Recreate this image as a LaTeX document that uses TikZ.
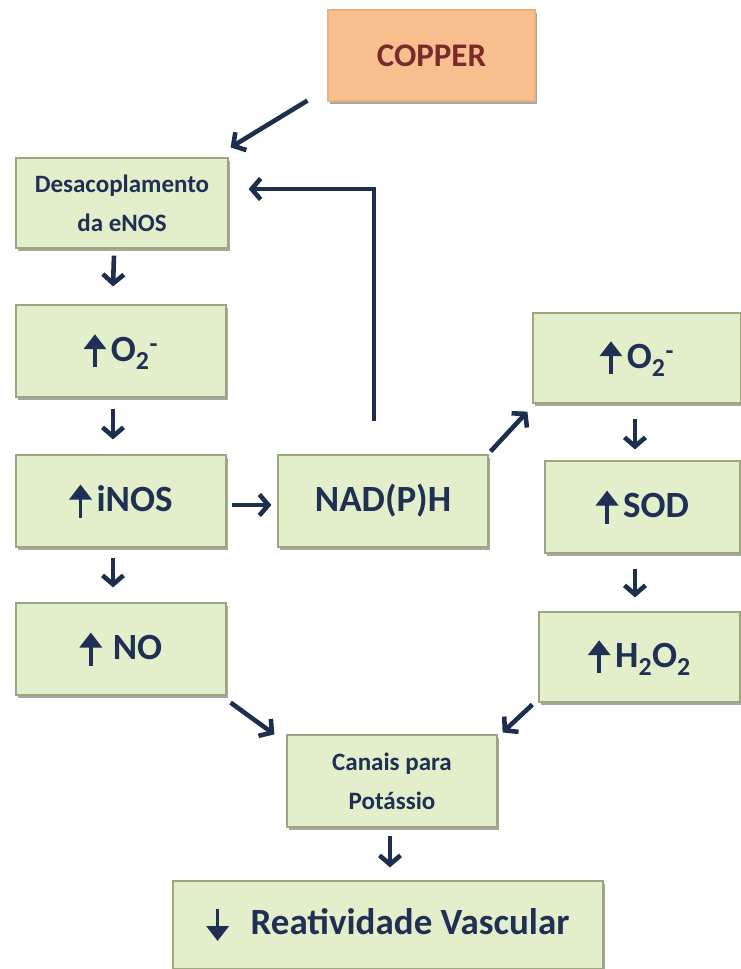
\documentclass[tikz,border=0pt]{standalone}
\usepackage{fontspec}
\setmainfont{Carlito}
\usetikzlibrary{arrows.meta,shadows,calc}
\definecolor{boxfill}{HTML}{E3EFCA}
\definecolor{boxedge}{HTML}{9CA67F}
\definecolor{orfill}{HTML}{F9C08F}
\definecolor{oredge}{HTML}{EBB07E}
\definecolor{navy}{HTML}{1E2E4D}
\definecolor{txt}{HTML}{1F3054}
\definecolor{copt}{HTML}{7A2A2A}
\newcommand{\myup}{\tikz[baseline=0pt]{\draw[draw=txt, fill=txt, line width=3.6pt, -{Triangle[length=15pt,width=22pt]}] (0pt,-6pt) -- (0pt,27pt);}\hspace{5pt}}
\newcommand{\mydn}{\tikz[baseline=0pt]{\draw[draw=txt, fill=txt, line width=3.6pt, -{Triangle[length=15pt,width=22pt]}] (0pt,25pt) -- (0pt,-7pt);}}
\tikzset{
  gbox/.style={draw=boxedge, line width=1.2pt, fill=boxfill, inner sep=0pt, align=center, text=txt,
    font=\bfseries\fontsize{37}{42}\selectfont,
    drop shadow={shadow xshift=2pt, shadow yshift=-2.5pt, opacity=0.35, fill=black}},
  sbox/.style={gbox, font=\bfseries\fontsize{25}{39}\selectfont},
  obox/.style={gbox, draw=oredge, fill=orfill, text=copt, font=\bfseries\fontsize{33}{38}\selectfont},
  arr/.style={draw=navy, line width=4.6pt, -{Straight Barb[length=9pt,width=21pt]}}
}
\begin{document}
\begin{tikzpicture}[x=1pt,y=-1pt]
\useasboundingbox (0,0) rectangle (741,969);
\node[obox, minimum width=207pt, minimum height=91pt] (copper) at (431.5,55.5) {COPPER};
\node[sbox, minimum width=212pt, minimum height=90pt] (desac) at (122,203) {Desacoplamento\\da eNOS};
\node[gbox, minimum width=210pt, minimum height=92pt] (o2l) at (121,351) {\myup O\textsubscript{2}\textsuperscript{-}};
\node[gbox, minimum width=210pt, minimum height=92pt] (inos) at (121,501) {\myup iNOS};
\node[gbox, minimum width=210pt, minimum height=92pt] (no) at (121,649) {\myup\hspace{6pt}NO};
\node[gbox, minimum width=210pt, minimum height=92pt] (nadph) at (383,501) {NAD(P)H};
\node[gbox, minimum width=208pt, minimum height=90pt] (o2r) at (637,358) {\myup O\textsubscript{2}\textsuperscript{-}};
\node[gbox, minimum width=195pt, minimum height=92pt] (sod) at (642.5,507) {\myup SOD};
\node[gbox, minimum width=201pt, minimum height=90pt] (h2o2) at (639.5,657) {\myup H\textsubscript{2}O\textsubscript{2}};
\node[sbox, minimum width=210pt, minimum height=92pt] (canais) at (392,781) {Canais para\\Potássio};
\node[gbox, minimum width=430pt, minimum height=88pt] (reat) at (388,925) {\mydn\hspace{22pt}Reatividade Vascular};

\draw[arr] ([shift={(-20,-1)}]copper.south west) -- ([shift={(2,-10)}]desac.north east);
\draw[arr] ([shift={(-8,7)}]desac.south) -- ([shift={(-8,-18)}]o2l.north);
\draw[arr] ([shift={(-8,11)}]o2l.south) -- ([shift={(-8,-15)}]inos.north);
\draw[arr] ([shift={(-8,10)}]inos.south) -- ([shift={(-8,-15)}]no.north);
\draw[arr] ([shift={(5,4)}]inos.east) -- ([shift={(-6,4)}]nadph.west);
\draw[arr] ([shift={(-9,-33)}]nadph.north) |- ([shift={(20,-14)}]desac.east);
\draw[arr] ([shift={(2,-3)}]nadph.north east) -- ([shift={(-5,8)}]o2r.south west);
\draw[arr] ([shift={(-2,15)}]o2r.south) -- ([shift={(-7.5,-11)}]sod.north);
\draw[arr] ([shift={(-7.5,15)}]sod.south) -- ([shift={(-4.5,-14)}]h2o2.north);
\draw[arr] ([shift={(4,7)}]no.south east) -- ([shift={(-12,0)}]canais.north west);
\draw[arr] ([shift={(-6,2)}]h2o2.south west) -- ([shift={(5,-2)}]canais.north east);
\draw[arr] ([shift={(-2,8)}]canais.south) -- ([shift={(2,-13)}]reat.north);
\end{tikzpicture}
\end{document}
